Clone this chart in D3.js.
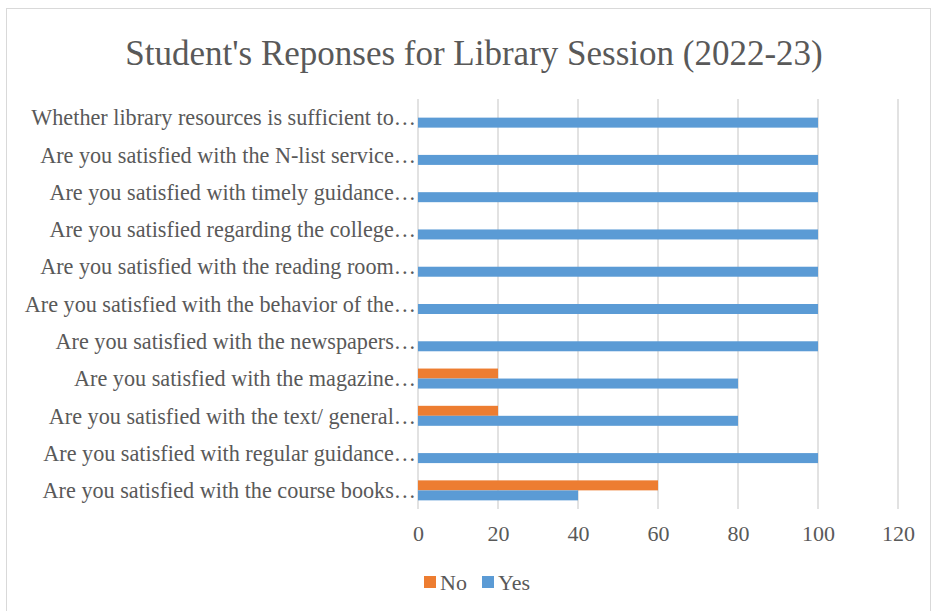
<!DOCTYPE html>
<html><head><meta charset="utf-8">
<script src="https://cdn.jsdelivr.net/npm/d3@7"></script>
<style>body{margin:0;background:#fff}svg{display:block}</style>
</head><body>
<svg id="c" width="932" height="611"></svg>
<script>
const categories = [
  "Whether library resources is sufficient to…",
  "Are you satisfied with the N-list service…",
  "Are you satisfied with timely guidance…",
  "Are you satisfied regarding the college…",
  "Are you satisfied with the reading room…",
  "Are you satisfied with the behavior of the…",
  "Are you satisfied with the newspapers…",
  "Are you satisfied with the magazine…",
  "Are you satisfied with the text/ general…",
  "Are you satisfied with regular guidance…",
  "Are you satisfied with the course books…"
];
const yesValues = [100,100,100,100,100,100,100,80,80,100,40];
const noValues  = [0,0,0,0,0,0,0,20,20,0,60];
const seriesNames = ["No","Yes"];
const xTicks = [0,20,40,60,80,100,120];
const colors = {No:"#ED7D31", Yes:"#5B9BD5"};
const title = "Student's Reponses for Library Session (2022-23)";

const svg = d3.select("#c");
const font = "'Liberation Serif','Times New Roman',serif";
const txt = "#595959";

// chart border
svg.append("rect").attr("x",6.5).attr("y",8.5).attr("width",924).attr("height",620)
  .attr("fill","#fff").attr("stroke","#D9D9D9").attr("stroke-width",1);

const x = d3.scaleLinear().domain([0,120]).range([418,898]);
const y = d3.scaleBand().domain(categories).range([99,509]).padding(0);
const bh = 10;

// gridlines
svg.append("g").selectAll("line").data(xTicks).join("line")
  .attr("x1",d=>x(d)).attr("x2",d=>x(d)).attr("y1",99).attr("y2",509)
  .attr("stroke","#D9D9D9").attr("stroke-width",1.5);

// bars
const data = categories.map((c,i)=>({c, No:noValues[i], Yes:yesValues[i]}));
const g = svg.append("g");
data.forEach(d=>{
  const cy = y(d.c) + y.bandwidth()/2;
  g.append("rect").attr("x",x(0)).attr("y",cy-bh).attr("width",x(d.No)-x(0)).attr("height",bh)
    .attr("fill",colors.No);
  g.append("rect").attr("x",x(0)).attr("y",cy).attr("width",x(d.Yes)-x(0)).attr("height",bh)
    .attr("fill",colors.Yes);
});

// category labels
svg.append("g").selectAll("text").data(categories).join("text")
  .attr("x",416).attr("y",d=>y(d)+y.bandwidth()/2)
  .attr("dy","0.35em").attr("text-anchor","end")
  .attr("font-family",font).attr("font-size",22.2).attr("fill",txt).text(d=>d);

// x tick labels
const xAxis = d3.axisBottom(x).tickValues(xTicks).tickSize(0).tickPadding(0);
const ax = svg.append("g").attr("transform","translate(0,533)").call(xAxis);
ax.select(".domain").remove();
ax.selectAll("text").attr("font-family",font).attr("font-size",22).attr("fill",txt)
  .attr("dy","0.35em");

// title
svg.append("text").attr("x",474).attr("y",65).attr("text-anchor","middle")
  .attr("font-family",font).attr("font-size",35).attr("fill",txt).text(title);

// legend
const leg = svg.append("g");
const lx = [424, 482];
seriesNames.forEach((s,i)=>{
  leg.append("rect").attr("x",lx[i]).attr("y",576).attr("width",12).attr("height",12).attr("fill",colors[s]);
  leg.append("text").attr("x",lx[i]+16).attr("y",582).attr("dy","0.35em")
    .attr("font-family",font).attr("font-size",22).attr("fill",txt).text(s);
});
</script>
</body></html>
